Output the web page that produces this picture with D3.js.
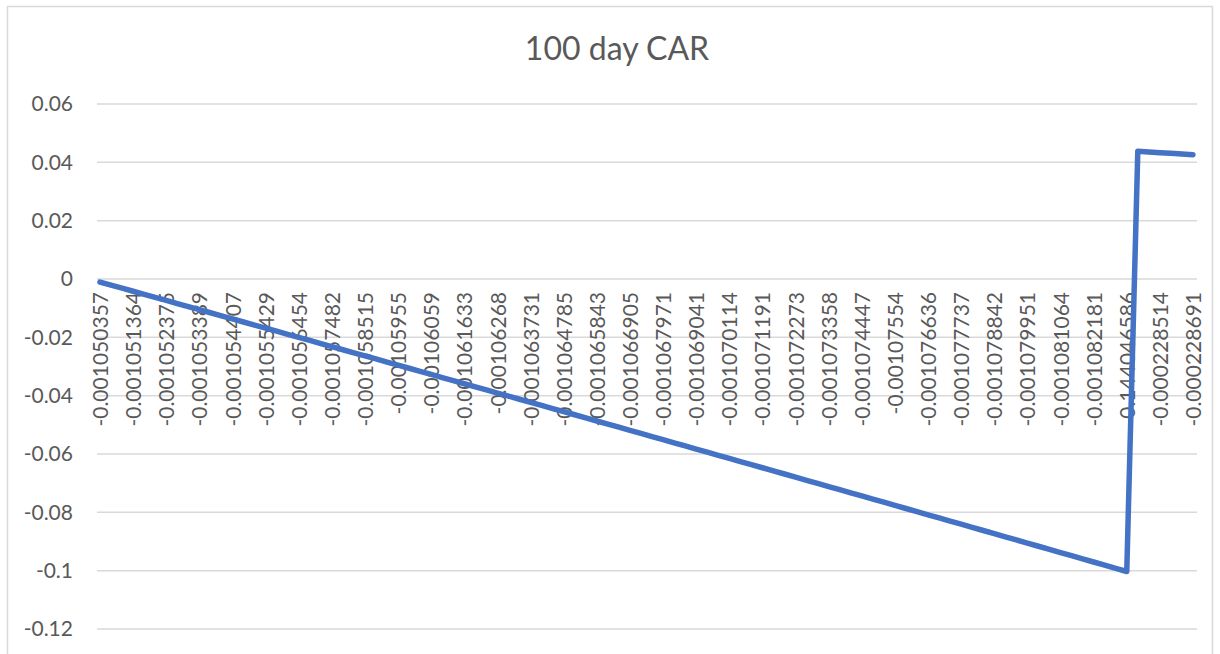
<!DOCTYPE html>
<html>
<head>
<meta charset="utf-8">
<script src="https://cdn.jsdelivr.net/npm/d3@7"></script>
<style>
  body{margin:0;background:#fff;}
  text{font-family:Lato,"Open Sans",sans-serif;fill:#595959;}
</style>
</head>
<body>
<script>
// 100 day CAR
var title="100 day CAR"
var car=[-0.00105,-0.00210,-0.00315,-0.00420,-0.00526,-0.00631,-0.00736,-0.00841,-0.00947,-0.01052,
  -0.01157,-0.01263,-0.01368,-0.01474,-0.01579,-0.01685,-0.01790,-0.01896,-0.02002,-0.02107,
  -0.02213,-0.02319,-0.02425,-0.02531,-0.02637,-0.02742,-0.02848,-0.02954,-0.03060,-0.03166,
  -0.03273,-0.03379,-0.03485,-0.03591,-0.03697,-0.03804,-0.03910,-0.04016,-0.04123,-0.04229,
  -0.04336,-0.04442,-0.04549,-0.04655,-0.04762,-0.04868,-0.04975,-0.05082,-0.05188,-0.05295,
  -0.05402,-0.05509,-0.05616,-0.05723,-0.05830,-0.05937,-0.06044,-0.06151,-0.06258,-0.06365,
  -0.06472,-0.06579,-0.06686,-0.06794,-0.06901,-0.07008,-0.07116,-0.07223,-0.07331,-0.07438,
  -0.07546,-0.07653,-0.07761,-0.07868,-0.07976,-0.08084,-0.08191,-0.08299,-0.08407,-0.08515,
  -0.08623,-0.08731,-0.08838,-0.08946,-0.09054,-0.09163,-0.09271,-0.09379,-0.09487,-0.09595,
  -0.09703,-0.09812,-0.09920,-0.10028,0.04377,0.04354,0.04331,0.04308,0.04286,0.04263]
// every third category label is shown on the axis
var xLabels=["-0.001050357","-0.001051364","-0.001052375","-0.001053389","-0.001054407","-0.001055429",
  "-0.001056454","-0.001057482","-0.001058515","-0.00105955","-0.00106059","-0.001061633",
  "-0.00106268","-0.001063731","-0.001064785","-0.001065843","-0.001066905","-0.001067971",
  "-0.001069041","-0.001070114","-0.001071191","-0.001072273","-0.001073358","-0.001074447",
  "-0.00107554","-0.001076636","-0.001077737","-0.001078842","-0.001079951","-0.001081064",
  "-0.001082181","0.144046586","-0.000228514","-0.000228691"]
var labelStep=3
var yTicks=[-0.12,-0.1,-0.08,-0.06,-0.04,-0.02,0,0.02,0.04,0.06]
var yTickLabels=["-0.12","-0.1","-0.08","-0.06","-0.04","-0.02","0","0.02","0.04","0.06"]

var drawChart=function(){
  var screen={width:1220,height:654}
  var plot={left:97,right:1197,top:104,bottom:629}
  var svg=d3.select("body").append("svg").attr("width",screen.width).attr("height",screen.height)

  // chart frame
  svg.append("rect")
     .attr("x",7.5).attr("y",6.5)
     .attr("width",1205).attr("height",700)
     .attr("fill","none").attr("stroke","#d9d9d9").attr("stroke-width",1.5)

  var xScale=d3.scalePoint().domain(d3.range(car.length)).range([100,1193])
  var yScale=d3.scaleLinear().domain([-0.12,0.06]).range([plot.bottom,plot.top])

  svg.append("text")
     .text(title)
     .attr("x",617)
     .attr("y",60)
     .attr("text-anchor","middle")
     .style("font-size","32px")

  svg.append("g").selectAll("line")
     .data(yTicks)
     .enter()
     .append("line")
     .attr("x1",plot.left).attr("x2",plot.right)
     .attr("y1",function(d){return yScale(d)})
     .attr("y2",function(d){return yScale(d)})
     .style("stroke","#d9d9d9")
     .style("stroke-width",1.5)

  var yAxis=d3.axisLeft(yScale).tickValues(yTicks).tickSize(0).tickPadding(24)
     .tickFormat(function(d,i){return yTickLabels[i]})
  var yg=svg.append("g").attr("transform","translate("+plot.left+",0)").call(yAxis)
  yg.select(".domain").remove()
  yg.selectAll("text").style("font-size","21px").style("fill","#595959")

  var xAxis=d3.axisBottom(xScale)
     .tickValues(d3.range(0,car.length,labelStep))
     .tickSize(0)
     .tickFormat(function(d){return xLabels[d/labelStep]})
  var xg=svg.append("g").attr("transform","translate(0,"+yScale(0)+")").call(xAxis)
  xg.select(".domain").remove()
  xg.selectAll("text")
     .attr("transform","rotate(-90)")
     .attr("x",-13).attr("y",0).attr("dy","0.36em")
     .style("text-anchor","end")
     .style("font-size","21px")
     .style("fill","#595959")

  var line=d3.line()
     .x(function(d,i){return xScale(i)})
     .y(function(d){return yScale(d)})
  svg.append("path")
     .datum(car)
     .attr("d",line)
     .attr("fill","none")
     .attr("stroke","#4472c4")
     .attr("stroke-width",5.5)
     .attr("stroke-linejoin","round")
     .attr("stroke-linecap","round")
}
drawChart()
</script>
</body>
</html>
